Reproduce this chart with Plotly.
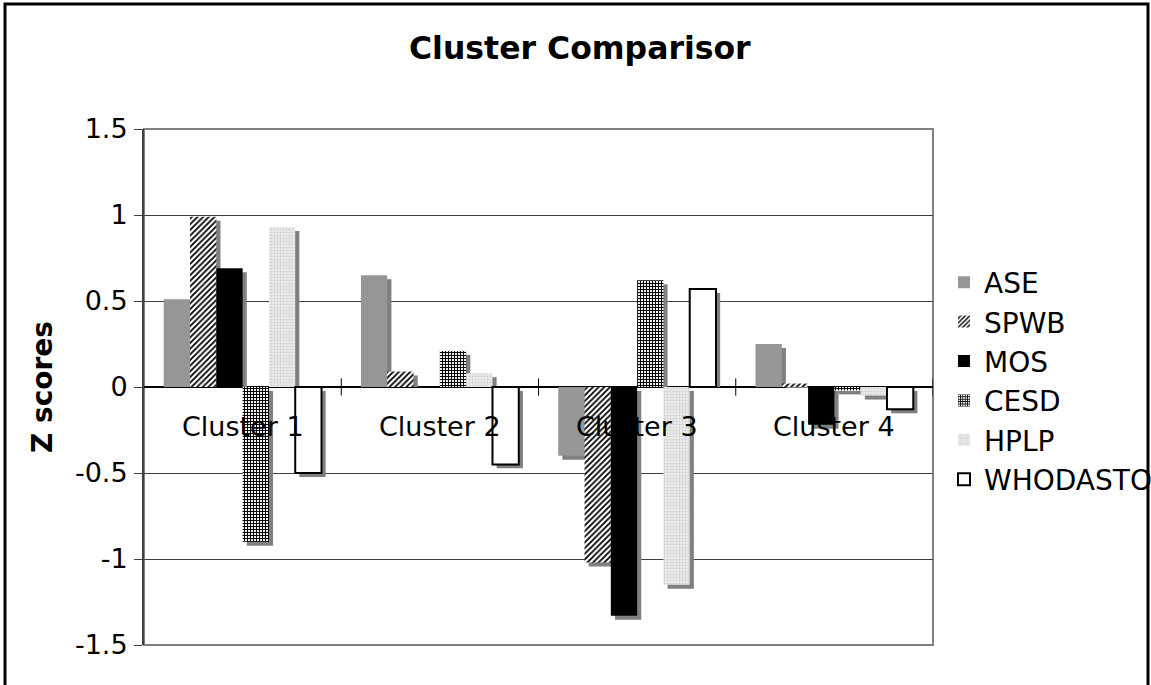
import plotly.graph_objects as go

# ---- data ----
clusters = ["Cluster 1", "Cluster 2", "Cluster 3", "Cluster 4"]
ase = [0.51, 0.65, -0.40, 0.25]
spwb = [0.99, 0.09, -1.02, 0.02]
mos = [0.69, 0.00, -1.33, -0.22]
cesd = [-0.90, 0.21, 0.62, -0.02]
hplp = [0.93, 0.08, -1.15, -0.05]
whodastot = [-0.50, -0.45, 0.57, -0.13]
series_names = ["ASE", "SPWB", "MOS", "CESD", "HPLP", "WHODASTOT"]
series_values = [ase, spwb, mos, cesd, hplp, whodastot]
y_ticks = [-1.5, -1, -0.5, 0, 0.5, 1, 1.5]
y_tick_labels = ["-1.5", "-1", "-0.5", "0", "0.5", "1", "1.5"]

FONT = "DejaVu Sans"
styles = [
    dict(color="#969696"),
    dict(color="white", pattern=dict(shape="/", fgcolor="black", bgcolor="white",
                                     size=4, solidity=0.45, fillmode="replace")),
    dict(color="black"),
    dict(color="white", pattern=dict(shape="+", fgcolor="black", bgcolor="white",
                                     size=3, solidity=0.6, fillmode="replace")),
    dict(color="#e8e8e8", pattern=dict(shape=".", fgcolor="#d0d0d0", bgcolor="#ececec",
                                       size=3, solidity=0.35, fillmode="replace")),
    dict(color="white", line=dict(color="black", width=2)),
]

n = len(series_names)
bw = 0.8 / n
sx = 0.021   # shadow horizontal shift (category units)
sy = 0.023   # shadow vertical shift (value units)

fig = go.Figure()

# shadows (behind all bars)
for i, vals in enumerate(series_values):
    base = [0 if v > 0 else -sy for v in vals]
    ys = [v - sy if v > 0 else v for v in vals]
    fig.add_trace(go.Bar(
        x=clusters, y=ys, base=base, width=bw, offset=-0.4 + i * bw + sx,
        marker=dict(color="#808080", line=dict(width=0)),
        showlegend=False, hoverinfo="skip"))

# bars
for i, (name, vals) in enumerate(zip(series_names, series_values)):
    st = dict(styles[i])
    if "line" not in st:
        st["line"] = dict(width=0)
    fig.add_trace(go.Bar(
        x=clusters, y=vals, name=name, width=bw, offset=-0.4 + i * bw,
        marker=st))

L, R, T, B = 144, 218, 129, 40
W, H = 1151, 685
pw = W - L - R
ph = H - T - B

def px_x(px):
    return (px - L) / pw

def px_y(py):
    return (H - B - py) / ph

shapes = [
    # plot area frame
    dict(type="rect", xref="paper", yref="paper", x0=0, x1=1, y0=0, y1=1,
         line=dict(color="#808080", width=2), layer="below"),
    # outer chart border
    dict(type="rect", xref="paper", yref="paper",
         x0=px_x(5), x1=px_x(1148), y0=px_y(700), y1=px_y(4),
         line=dict(color="black", width=3)),
]
# cross tick marks on the category axis at boundaries
for k in range(len(clusters)):
    xb = k + 0.5
    shapes.append(dict(type="line", xref="x", yref="y", x0=xb, x1=xb,
                       y0=-0.05, y1=0.05, line=dict(color="black", width=1)))

annotations = [
    dict(text="<b>Cluster Comparisor</b>", xref="paper", yref="paper",
         x=px_x(580), y=px_y(48), xanchor="center", yanchor="middle",
         showarrow=False, font=dict(family=FONT, size=31.5, color="black")),
    dict(text="<b>Z scores</b>", xref="paper", yref="paper",
         x=px_x(42), y=0.5, xanchor="center", yanchor="middle", textangle=-90,
         showarrow=False, font=dict(family=FONT, size=28, color="black")),
]
for c in clusters:
    annotations.append(dict(text=c, xref="x", yref="y", x=c, y=0,
                            xanchor="center", yanchor="middle", yshift=-39,
                            showarrow=False,
                            font=dict(family=FONT, size=27, color="black")))

fig.update_layout(
    width=W, height=H,
    margin=dict(l=L, r=R, t=T, b=B, autoexpand=False),
    paper_bgcolor="white", plot_bgcolor="white",
    barmode="overlay",
    font=dict(family=FONT, size=27, color="black"),
    showlegend=True,
    legend=dict(x=px_x(944), y=px_y(381), xanchor="left", yanchor="middle",
                font=dict(family=FONT, size=28, color="black"),
                bgcolor="rgba(0,0,0,0)", itemwidth=30, tracegroupgap=0),
    xaxis=dict(range=[-0.5, 3.5], showticklabels=False, showgrid=False,
               zeroline=False, showline=False, ticks=""),
    yaxis=dict(range=[-1.5, 1.5], tickvals=y_ticks, ticktext=y_tick_labels,
               showgrid=True, gridcolor="#404040", gridwidth=1,
               zeroline=True, zerolinecolor="black", zerolinewidth=1.5,
               showline=True, linecolor="#404040", linewidth=2,
               ticks="outside", ticklen=8, tickcolor="#404040",
               ticklabelstandoff=1,
               tickfont=dict(family=FONT, size=27, color="black")),
    shapes=shapes, annotations=annotations,
)

fig.write_html(
    "out.html",
    config={"displayModeBar": False},
    post_script="document.body.style.margin='0';document.body.style.padding='0';"
                "document.body.style.overflow='hidden';",
)
